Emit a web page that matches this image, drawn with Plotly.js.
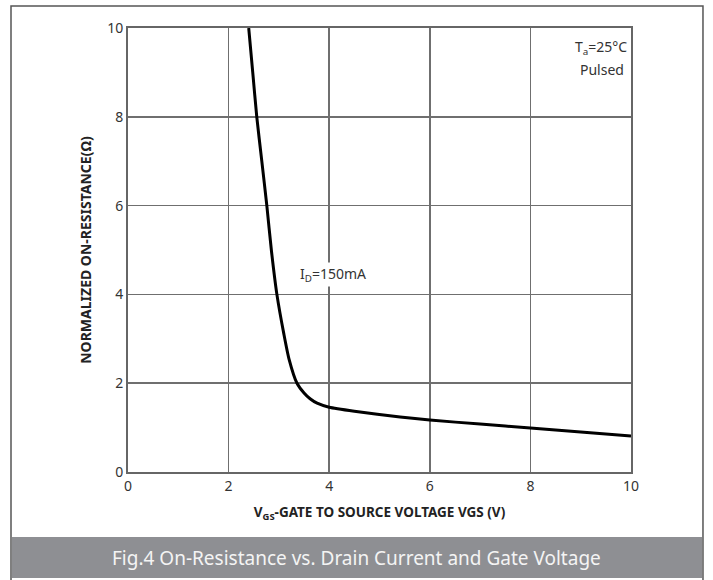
<!DOCTYPE html>
<html>
<head>
<meta charset="utf-8">
<script src="https://cdn.plot.ly/plotly-3.0.1.min.js"></script>
<style>html,body{margin:0;padding:0;background:#fff;}#chart{width:713px;height:580px;}</style>
</head>
<body>
<div id="chart"></div>
<script>
// Gate-source voltage (V) and normalized on-resistance (Ω), ID = 150 mA
const vgs = [2.40, 2.48, 2.56, 2.66, 2.76, 2.85, 2.96, 3.10, 3.20, 3.36, 3.50, 3.62, 3.76, 4.00, 4.50, 5.41, 6.00, 7.00, 8.00, 9.00, 10.00];
const rds = [10.0, 9.0, 8.0, 7.0, 6.0, 5.0, 4.0, 3.1, 2.55, 2.0, 1.78, 1.65, 1.55, 1.46, 1.37, 1.24, 1.17, 1.08, 0.99, 0.90, 0.81];
const xTicks = [0, 2, 4, 6, 8, 10];
const yTicks = [0, 2, 4, 6, 8, 10];

const trace = {
  x: vgs, y: rds, type: 'scatter', mode: 'lines',
  line: {color: '#000', width: 3, shape: 'spline', smoothing: 0.6},
  hoverinfo: 'skip', showlegend: false
};

const gridColor = '#6f6f6f';
const font = {family: '"Noto Sans", "Open Sans", sans-serif', color: '#333'};

const layout = {
  width: 713, height: 580,
  margin: {l: 128, r: 82, t: 28, b: 108},
  paper_bgcolor: '#fff', plot_bgcolor: '#fff',
  font: font,
  xaxis: {
    range: [0, 10], tickvals: xTicks, ticktext: xTicks.map(String),
    showgrid: true, gridcolor: gridColor, gridwidth: 1.5,
    zeroline: false, showline: true, mirror: true, linecolor: '#666', linewidth: 2,
    ticks: '', tickfont: {size: 14, color: '#333'}, fixedrange: true,
    title: {text: 'V<sub>GS</sub>-GATE TO SOURCE VOLTAGE VGS (V)', font: {size: 13.5, color: '#222', family: '"Noto Sans", sans-serif', weight: 'bold'}, standoff: 14}
  },
  yaxis: {
    range: [0, 10], tickvals: yTicks, ticktext: yTicks.map(String),
    showgrid: true, gridcolor: gridColor, gridwidth: 1.5,
    zeroline: false, showline: true, mirror: true, linecolor: '#666', linewidth: 2,
    ticks: '', tickfont: {size: 14, color: '#333'}, fixedrange: true,
    title: {text: 'NORMALIZED ON-RESISTANCE(Ω)', font: {size: 14, color: '#222', family: '"Noto Sans", sans-serif', weight: 'bold'}, standoff: 12}
  },
  shapes: [
    {type: 'rect', xref: 'paper', yref: 'paper', x0: -0.2306, x1: 1.1412, y0: -0.2387, y1: -0.1464,
     fillcolor: '#8e8f93', line: {width: 0}, layer: 'below'},
    {type: 'rect', xref: 'paper', yref: 'paper', x0: -0.2326, x1: 1.1431, y0: -0.245, y1: 1.0495,
     fillcolor: 'rgba(0,0,0,0)', line: {color: '#555', width: 1.5}}
  ],
  annotations: [
    {xref: 'x', yref: 'y', x: 8.85, y: 9.56, text: 'T<sub>a</sub>=25°C', showarrow: false, xanchor: 'left',
     font: {size: 14, color: '#333'}},
    {xref: 'x', yref: 'y', x: 8.94, y: 9.07, text: 'Pulsed', showarrow: false, xanchor: 'left',
     font: {size: 14, color: '#333'}},
    {xref: 'x', yref: 'y', x: 3.38, y: 4.45, text: 'I<sub>D</sub>=150mA', showarrow: false, xanchor: 'left',
     bgcolor: '#fff', borderpad: 1, font: {size: 14, color: '#333'}},
    {xref: 'paper', yref: 'paper', x: 0.455, y: -0.193, text: 'Fig.4 On-Resistance vs. Drain Current and Gate Voltage',
     showarrow: false, xanchor: 'center', yanchor: 'middle', font: {size: 19, color: '#f4f4f4', family: '"Noto Sans", sans-serif'}}
  ]
};

Plotly.newPlot('chart', [trace], layout, {displayModeBar: false, staticPlot: true});
</script>
</body>
</html>
